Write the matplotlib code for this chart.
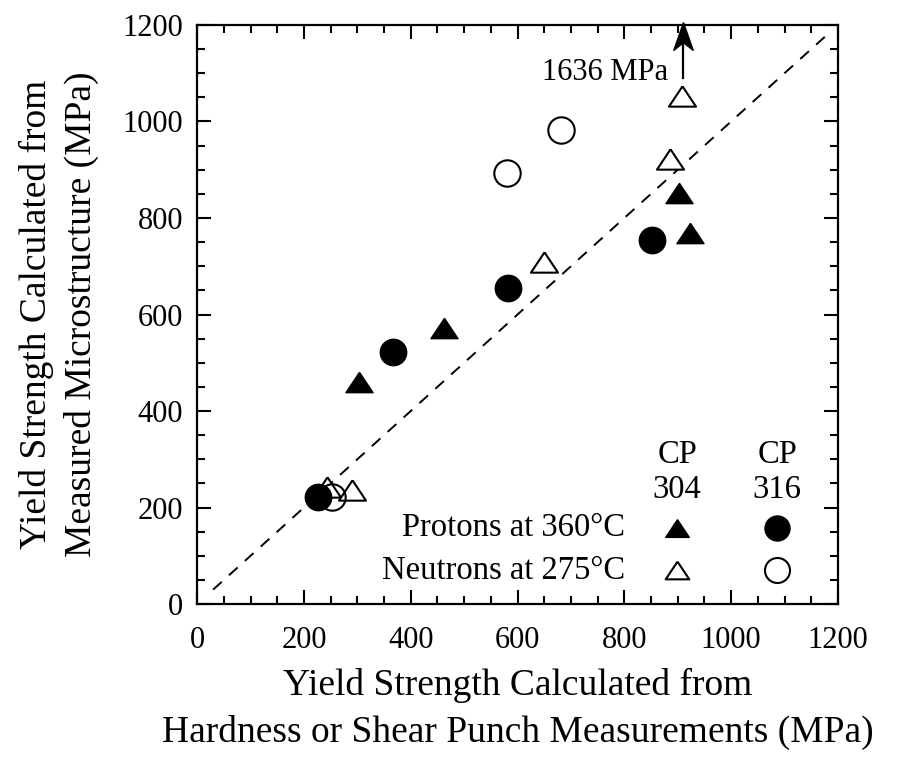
import matplotlib
matplotlib.use("Agg")
import matplotlib.pyplot as plt
from matplotlib.ticker import MultipleLocator

plt.rcParams['font.family'] = ['Liberation Serif', 'DejaVu Serif']

# DATA (MPa): x = hardness / shear punch, y = from microstructure
p304_x = [303, 462, 903, 923]           # protons 360C, CP 304 (filled triangles)
p304_y = [460, 572, 852, 768]
p316_x = [227, 367, 583, 852]           # protons 360C, CP 316 (filled circles)
p316_y = [222, 522, 655, 754]
n304_x = [243, 290, 650, 886, 908]      # neutrons 275C, CP 304 (open triangles)
n304_y = [243, 236, 709, 922, 1053]
n316_x = [253, 580, 682]                # neutrons 275C, CP 316 (open circles)
n316_y = [222, 893, 982]
one_to_one = [30, 1180]
off_scale_x = 910
off_scale_label = "1636 MPa"

# flat triangle like the original print, and a barbed arrow head
tri = [(0, 0.75), (-1, -0.75), (1, -0.75), (0, 0.75)]
barb = [(0, 1), (-0.7, -1), (0, -0.45), (0.7, -1), (0, 1)]

# FIGURE
# =============================================================================
fig = plt.figure(figsize=(9, 7.57), dpi=100)
ax = fig.add_axes([0.219, 0.202, 0.712, 0.765])

ax.plot(one_to_one, one_to_one, color='black', lw=1.4, ls=(0, (6, 5)), zorder=1)

tri_ms = 19.5
circ_ms = 19
ax.plot(p304_x, p304_y, marker=tri, ls='none', ms=tri_ms, mfc='black', mec='black', zorder=2)
ax.plot(n304_x, n304_y, marker=tri, ls='none', ms=tri_ms, mfc='white', mec='black', mew=1.5, zorder=3)
ax.plot(p316_x, p316_y, 'o', ms=circ_ms, mfc='black', mec='black', zorder=4)
ax.plot(n316_x, n316_y, 'o', ms=circ_ms, mfc='none', mec='black', mew=1.5, zorder=5)

# off-scale arrow
ax.plot([off_scale_x, off_scale_x], [1090, 1170], color='black', lw=1.6, clip_on=False)
ax.plot([off_scale_x], [1177], marker=barb, ms=20, color='black', clip_on=False)
ax.text(off_scale_x - 28, 1102, off_scale_label, ha='right', va='center', fontsize=22)

# hand-made legend
fs_leg = 23.5
ax.text(899, 309, 'CP', ha='center', va='center', fontsize=fs_leg)
ax.text(1086, 309, 'CP', ha='center', va='center', fontsize=fs_leg)
ax.text(899, 236, '304', ha='center', va='center', fontsize=fs_leg)
ax.text(1086, 236, '316', ha='center', va='center', fontsize=fs_leg)
ax.text(801, 158, 'Protons at 360°C', ha='right', va='center', fontsize=fs_leg)
ax.text(801, 70, 'Neutrons at 275°C', ha='right', va='center', fontsize=fs_leg)
ax.plot([899], [158], marker=tri, ms=17, mfc='black', mec='black')
ax.plot([1086], [158], 'o', ms=18, mfc='black', mec='black')
ax.plot([899], [70], marker=tri, ms=17, mfc='white', mec='black', mew=1.5)
ax.plot([1086], [70], 'o', ms=18, mfc='white', mec='black', mew=1.5)

# AXES
# =============================================================================
ax.set_xlim(0, 1200)
ax.set_ylim(0, 1200)
ax.xaxis.set_major_locator(MultipleLocator(200))
ax.yaxis.set_major_locator(MultipleLocator(200))
ax.xaxis.set_minor_locator(MultipleLocator(50))
ax.yaxis.set_minor_locator(MultipleLocator(50))
ax.tick_params(which='both', direction='in', top=True, right=True, width=1.5)
ax.tick_params(which='major', length=10, labelsize=22)
ax.tick_params(which='minor', length=5.5)
ax.tick_params(axis='x', which='major', pad=16)
ax.tick_params(axis='y', which='major', pad=10)
for s in ax.spines.values():
    s.set_linewidth(1.6)

ax.set_xlabel('Yield Strength Calculated from\nHardness or Shear Punch Measurements (MPa)',
              fontsize=27, labelpad=9, linespacing=1.45)
ax.set_ylabel('Yield Strength Calculated from\nMeasured Microstructure (MPa)',
              fontsize=27, labelpad=17, linespacing=1.35)

fig.savefig('out.png', dpi=100)
